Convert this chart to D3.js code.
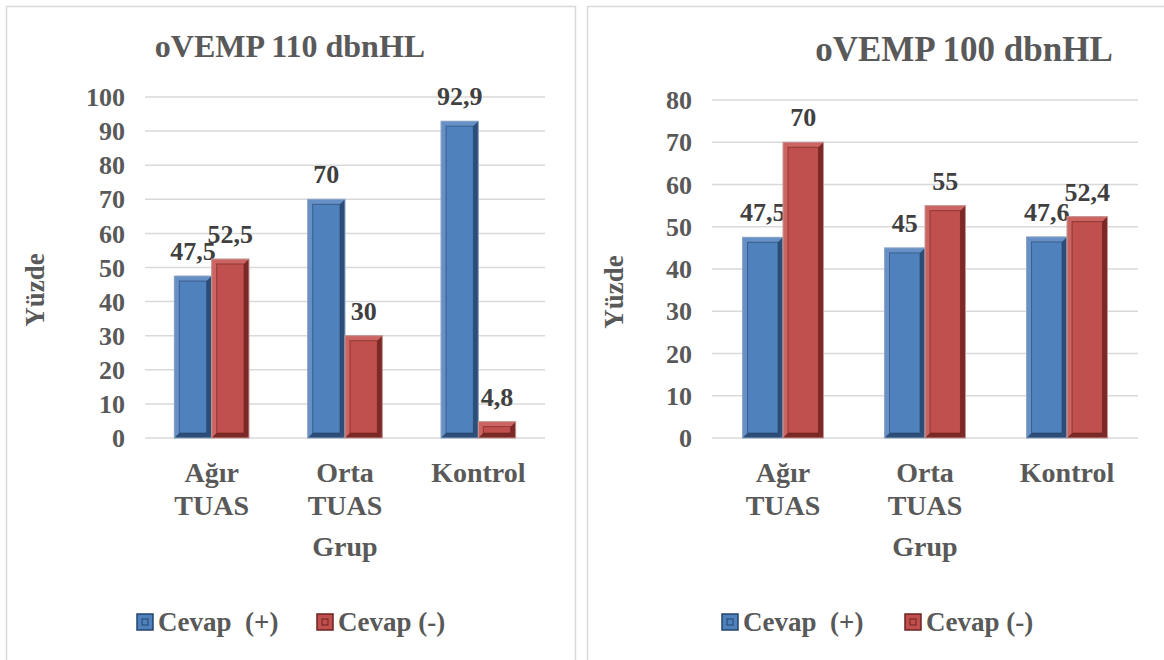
<!DOCTYPE html>
<html>
<head>
<meta charset="utf-8">
<script src="https://cdn.jsdelivr.net/npm/d3@7"></script>
<style>
  body { margin: 0; background: #fff; }
  svg text { font-family: "Times New Roman", "Liberation Serif", "DejaVu Serif", serif; font-weight: bold; }
</style>
</head>
<body>
<svg id="chart" width="1164" height="660"></svg>
<script>
// data
const categories = [["Ağır", "TUAS"], ["Orta", "TUAS"], ["Kontrol"]];
const seriesNames = ["Cevap  (+)", "Cevap (-)"];
const oVemp110Pos = [47.5, 70, 92.9];
const oVemp110Neg = [52.5, 30, 4.8];
const oVemp100Pos = [47.5, 45, 47.6];
const oVemp100Neg = [70, 55, 52.4];
const ticks110 = [0, 10, 20, 30, 40, 50, 60, 70, 80, 90, 100];
const ticks100 = [0, 10, 20, 30, 40, 50, 60, 70, 80];

const colors = [
  {base: "#4f81bd", light: "#6790c6", dark: "#24446c", edge: "#8ea6c4"},
  {base: "#c0504d", light: "#cc6562", dark: "#6e2220", edge: "#c49896"}
];
const textColor = "#595959";
const serif = "'Liberation Serif', 'Times New Roman', serif";

const svg = d3.select("#chart");

// panel frames
svg.append("rect").attr("x", 6.5).attr("y", 6.5).attr("width", 569).attr("height", 670)
  .attr("fill", "#fff").attr("stroke", "#d9d9d9").attr("stroke-width", 1.5);
svg.append("rect").attr("x", 587.5).attr("y", 6.5).attr("width", 600).attr("height", 670)
  .attr("fill", "#fff").attr("stroke", "#d9d9d9").attr("stroke-width", 1.5);

function fmt(v) { return String(v).replace(".", ","); }

function label(g) {
  return g.append("text").attr("font-family", serif).attr("font-weight", "bold");
}

function drawPanel(cfg) {
  const g = svg.append("g");
  const x = d3.scaleBand().domain(d3.range(categories.length)).range([cfg.x0, cfg.x1]);
  const y = d3.scaleLinear().domain([0, cfg.yMax]).range([cfg.yBottom, cfg.yTop]);
  const groupW = x.bandwidth() * cfg.groupFrac;
  const sub = d3.scaleBand().domain([0, 1]).range([0, groupW]);

  // title
  label(g).attr("x", cfg.titleX).attr("y", cfg.titleY)
    .attr("text-anchor", "middle").attr("fill", textColor)
    .style("font-size", cfg.titleSize + "px").text(cfg.title);

  // gridlines
  g.selectAll(".grid").data(cfg.ticks).join("line")
    .attr("x1", cfg.x0).attr("x2", cfg.x1)
    .attr("y1", d => y(d)).attr("y2", d => y(d))
    .attr("stroke", "#d9d9d9").attr("stroke-width", 1.5);

  // y tick labels
  cfg.ticks.forEach(d => {
    label(g).attr("x", cfg.x0 - 20).attr("y", y(d)).attr("dy", "0.35em")
      .attr("text-anchor", "end").attr("fill", textColor)
      .style("font-size", "26px").text(d);
  });

  // y axis title
  label(g)
    .attr("transform", "translate(" + cfg.yTitleX + "," + cfg.yTitleY + ") rotate(-90)")
    .attr("text-anchor", "middle").attr("dy", "0.35em").attr("fill", textColor)
    .style("font-size", "27px").text("Yüzde");

  // bars
  const rows = [];
  cfg.series.forEach((vals, s) => {
    vals.forEach((v, i) => {
      rows.push({s: s, i: i, v: v});
    });
  });
  rows.forEach(d => {
    const c = colors[d.s];
    const bx = x(d.i) + (x.bandwidth() - groupW) / 2 + sub(d.s);
    const bw = sub.bandwidth();
    const by = y(d.v);
    const bh = y(0) - y(d.v);
    const e = Math.min(5, bh / 2);
    const bar = g.append("g");
    bar.append("rect").attr("x", bx).attr("y", by).attr("width", bw).attr("height", bh)
      .attr("fill", c.base);
    // bevel edges
    bar.append("polygon").attr("fill", c.light)
      .attr("points", [[bx, by], [bx + bw, by], [bx + bw - e, by + e], [bx + e, by + e]].join(" "));
    bar.append("polygon").attr("fill", c.light)
      .attr("points", [[bx, by], [bx + e, by + e], [bx + e, by + bh - e], [bx, by + bh]].join(" "));
    bar.append("polygon").attr("fill", c.dark).attr("opacity", 0.85)
      .attr("points", [[bx + bw, by], [bx + bw, by + bh], [bx + bw - e, by + bh - e], [bx + bw - e, by + e]].join(" "));
    bar.append("polygon").attr("fill", c.dark).attr("opacity", 0.85)
      .attr("points", [[bx, by + bh], [bx + bw, by + bh], [bx + bw - e, by + bh - e], [bx + e, by + bh - e]].join(" "));
    bar.append("rect").attr("x", bx + e).attr("y", by + e)
      .attr("width", Math.max(0, bw - 2 * e)).attr("height", Math.max(0, bh - 2 * e))
      .attr("fill", "none").attr("stroke", c.dark).attr("stroke-opacity", 0.6);
    bar.append("rect").attr("x", bx).attr("y", by).attr("width", bw).attr("height", bh)
      .attr("fill", "none").attr("stroke", c.edge).attr("stroke-width", 1);
    // value label
    label(g).attr("x", bx + bw / 2).attr("y", by - 16)
      .attr("text-anchor", "middle").attr("fill", "#404040")
      .style("font-size", "26px").text(fmt(d.v));
  });

  // category labels
  categories.forEach((lines, i) => {
    const t = label(g).attr("text-anchor", "middle").attr("fill", textColor)
      .style("font-size", "28px");
    lines.forEach((ln, k) => {
      t.append("tspan").attr("x", x(i) + x.bandwidth() / 2)
        .attr("y", cfg.yBottom + 44 + k * 33).text(ln);
    });
  });

  // x axis title
  label(g).attr("x", (cfg.x0 + cfg.x1) / 2).attr("y", cfg.yBottom + 118)
    .attr("text-anchor", "middle").attr("fill", textColor)
    .style("font-size", "28px").text("Grup");

  // legend
  seriesNames.forEach((name, s) => {
    const lx = cfg.legendX[s];
    const c = colors[s];
    g.append("rect").attr("x", lx).attr("y", 614).attr("width", 16).attr("height", 16)
      .attr("fill", c.base).attr("stroke", c.dark).attr("stroke-width", 1.5);
    g.append("rect").attr("x", lx + 5).attr("y", 619).attr("width", 6).attr("height", 6)
      .attr("fill", "none").attr("stroke", c.dark).attr("stroke-width", 1);
    label(g).attr("x", lx + 21).attr("y", 631).attr("fill", textColor)
      .style("font-size", "27px").style("white-space", "pre").attr("xml:space", "preserve")
      .text(name);
  });
}

drawPanel({
  title: "oVEMP 110 dbnHL", titleX: 290, titleY: 57, titleSize: 32,
  x0: 145, x1: 545, yTop: 97, yBottom: 438, yMax: 100, ticks: ticks110,
  groupFrac: 0.56, series: [oVemp110Pos, oVemp110Neg],
  yTitleX: 35, yTitleY: 290, legendX: [137, 317]
});

drawPanel({
  title: "oVEMP 100 dbnHL", titleX: 964, titleY: 61, titleSize: 35,
  x0: 712, x1: 1138, yTop: 100, yBottom: 438, yMax: 80, ticks: ticks100,
  groupFrac: 0.57, series: [oVemp100Pos, oVemp100Neg],
  yTitleX: 614, yTitleY: 292, legendX: [722, 905]
});
</script>
</body>
</html>
